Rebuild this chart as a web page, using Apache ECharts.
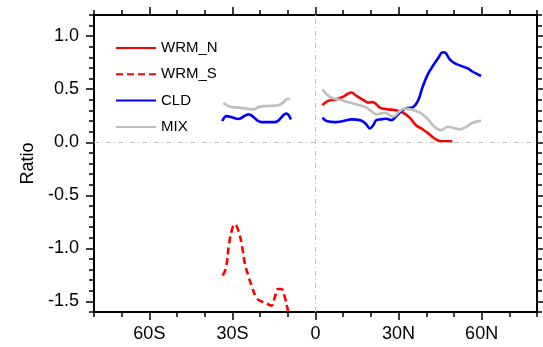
<!DOCTYPE html>
<html><head><meta charset="utf-8">
<script src="https://cdn.jsdelivr.net/npm/echarts@6/dist/echarts.min.js"></script>
<style>html,body{margin:0;padding:0;background:#fff}#c{width:543px;height:347px}</style>
</head><body><div id="c"></div>
<script>
// latitude (deg, negative = S) and ratio values
const wrmNLat = [2.5,4.5,7.6,10.0,11.4,13.0,14.8,17.2,19.0,20.6,22.0,23.2,26.2,28.6,31.6,34.0,36.4,38.8,41.2,43.6,45.4,47.2,49.4];
const wrmNVal = [0.351,0.39,0.405,0.43,0.453,0.469,0.437,0.40,0.374,0.38,0.358,0.327,0.31,0.304,0.28,0.232,0.159,0.121,0.073,0.026,0.01,0.01,0.01];
const wrmSLat = [-33.5,-32.3,-31.2,-29.9,-29.1,-27.9,-26.7,-25.5,-24.3,-23.1,-21.3,-19.5,-17.7,-15.9,-14.7,-13.5,-12.3,-11.1,-9.9,-9.3];
const wrmSVal = [-1.256,-1.18,-0.955,-0.80,-0.772,-0.83,-0.955,-1.145,-1.256,-1.35,-1.468,-1.50,-1.52,-1.54,-1.46,-1.383,-1.383,-1.46,-1.59,-1.65];
const cldSLat = [-33.7,-32.1,-30.3,-27.9,-24.3,-19.5,-14.7,-10.5,-8.9];
const cldSVal = [0.20,0.247,0.237,0.22,0.263,0.19,0.19,0.27,0.215];
const cldNLat = [2.5,4.0,7.0,10.0,13.0,16.0,18.1,19.6,20.8,22.0,23.8,25.6,27.4,29.2,31.0,32.8,35.2,37.0,38.8,40.6,42.4,44.2,46.0,47.0,48.4,50.2,52.6,55.0,56.8,59.2,59.8];
const cldNVal = [0.232,0.20,0.19,0.2,0.216,0.209,0.178,0.13,0.159,0.209,0.216,0.222,0.209,0.247,0.294,0.32,0.332,0.39,0.53,0.643,0.72,0.79,0.849,0.842,0.785,0.747,0.72,0.697,0.665,0.633,0.625];
const mixSLat = [-33.3,-30.9,-27.9,-24.9,-22.5,-20.1,-17.1,-13.5,-11.7,-10.5,-9.3];
const mixSVal = [0.37,0.336,0.327,0.317,0.31,0.336,0.342,0.35,0.374,0.405,0.41];
const mixNLat = [2.5,4.0,5.8,8.8,12.4,16.0,18.4,20.2,22.0,23.8,25.0,28.0,30.4,32.2,35.2,38.2,40.6,43.0,45.4,47.8,49.6,52.0,54.4,56.8,59.2,59.8];
const mixNVal = [0.50,0.453,0.42,0.40,0.374,0.35,0.327,0.294,0.263,0.273,0.279,0.241,0.294,0.317,0.304,0.273,0.216,0.146,0.114,0.146,0.137,0.121,0.146,0.184,0.2,0.205];

const xTicks = [-60,-30,0,30,60];
const xTickLabels = ['60S','30S','0','30N','60N'];
const yTicks = [-1.5,-1.0,-0.5,0.0,0.5,1.0];
const yTickLabels = ['-1.5','-1.0','-0.5','0.0','0.5','1.0'];

const pair = (a,b) => a.map((v,i)=>[v,b[i]]);
const FONT = 'Liberation Sans, Arial, Helvetica, sans-serif';

function xAx(pos, major, labels){
  return {
    type:'value', position:pos, min:-80, max:80, interval:10,
    axisLine:{show:!major, onZero:false, lineStyle:{color:'#000',width:2}},
    axisTick:major ? {show:true, inside:false, length:8, customValues:xTicks, lineStyle:{color:'#000',width:1.5}}
                   : {show:true, inside:false, length:5, lineStyle:{color:'#000',width:1.5}},
    axisLabel:labels ? {show:true, customValues:xTicks, margin:13, fontSize:18, fontFamily:FONT, color:'#000',
                        formatter:v=>xTickLabels[xTicks.indexOf(v)] ?? ''} : {show:false},
    splitLine:{show:false}
  };
}
function yAx(pos, major, labels){
  return {
    type:'value', position:pos, min:-1.6, max:1.2, interval:0.1,
    axisLine:{show:!major, onZero:false, lineStyle:{color:'#000',width:2}},
    axisTick:major ? {show:true, inside:false, length:8, customValues:yTicks, lineStyle:{color:'#000',width:1.5}}
                   : {show:true, inside:false, length:5, lineStyle:{color:'#000',width:1.5}},
    axisLabel:labels ? {show:true, customValues:yTicks, margin:15, fontSize:18, fontFamily:FONT, color:'#000',
                        formatter:v=>{const i=yTicks.findIndex(t=>Math.abs(t-v)<1e-6);return i>=0?yTickLabels[i]:'';}} : {show:false},
    splitLine:{show:false},
    name: labels ? 'Ratio' : '', nameLocation:'middle', nameGap:57, nameRotate:90,
    nameTextStyle:{fontSize:18, fontFamily:FONT, color:'#000'}
  };
}

const xAxes = [xAx('bottom',false,true), xAx('bottom',true,false), xAx('top',false,false), xAx('top',true,false)];
const yAxes = [yAx('left',false,true), yAx('left',true,false), yAx('right',false,false), yAx('right',true,false)];

const lw = 2.6;
const option = {
  animation:false,
  grid:{left:94, right:6, top:15, bottom:35, containLabel:false},
  xAxis:xAxes, yAxis:yAxes,
  legend:{
    orient:'vertical', left:115, top:40, padding:0, itemWidth:40, itemHeight:16, itemGap:10.3,
    data:['WRM_N','WRM_S','CLD','MIX'],
    itemStyle:{opacity:0},
    textStyle:{fontSize:15, fontFamily:FONT, color:'#000', lineHeight:16}
  },
  series:[
    {name:'WRM_N', type:'line', data:pair(wrmNLat,wrmNVal), smooth:0.4, symbol:'none',
     lineStyle:{color:'#ff0000', width:lw}, itemStyle:{color:'#ff0000'},
     markLine:{silent:true, symbol:'none', label:{show:false},
       lineStyle:{color:'#c0c0c0', width:1, type:[5,3,1,3]},
       data:[{yAxis:0},{xAxis:0}]}},
    {name:'WRM_S', type:'line', data:pair(wrmSLat,wrmSVal), smooth:0.4, symbol:'none',
     lineStyle:{color:'#ff0000', width:lw, type:[7,4]}, itemStyle:{color:'#ff0000'}},
    {name:'CLD', type:'line', data:pair(cldSLat,cldSVal), smooth:0.4, symbol:'none',
     lineStyle:{color:'#0000ff', width:lw}, itemStyle:{color:'#0000ff'}},
    {name:'CLD', type:'line', data:pair(cldNLat,cldNVal), smooth:0.4, symbol:'none',
     lineStyle:{color:'#0000ff', width:lw}, itemStyle:{color:'#0000ff'}},
    {name:'MIX', type:'line', data:pair(mixSLat,mixSVal), smooth:0.4, symbol:'none',
     lineStyle:{color:'#bebebe', width:lw}, itemStyle:{color:'#bebebe'}},
    {name:'MIX', type:'line', data:pair(mixNLat,mixNVal), smooth:0.4, symbol:'none',
     lineStyle:{color:'#bebebe', width:lw}, itemStyle:{color:'#bebebe'}}
  ]
};
const chart = echarts.init(document.getElementById('c'), null, {renderer:'canvas'});
chart.setOption(option);
</script>
</body></html>
